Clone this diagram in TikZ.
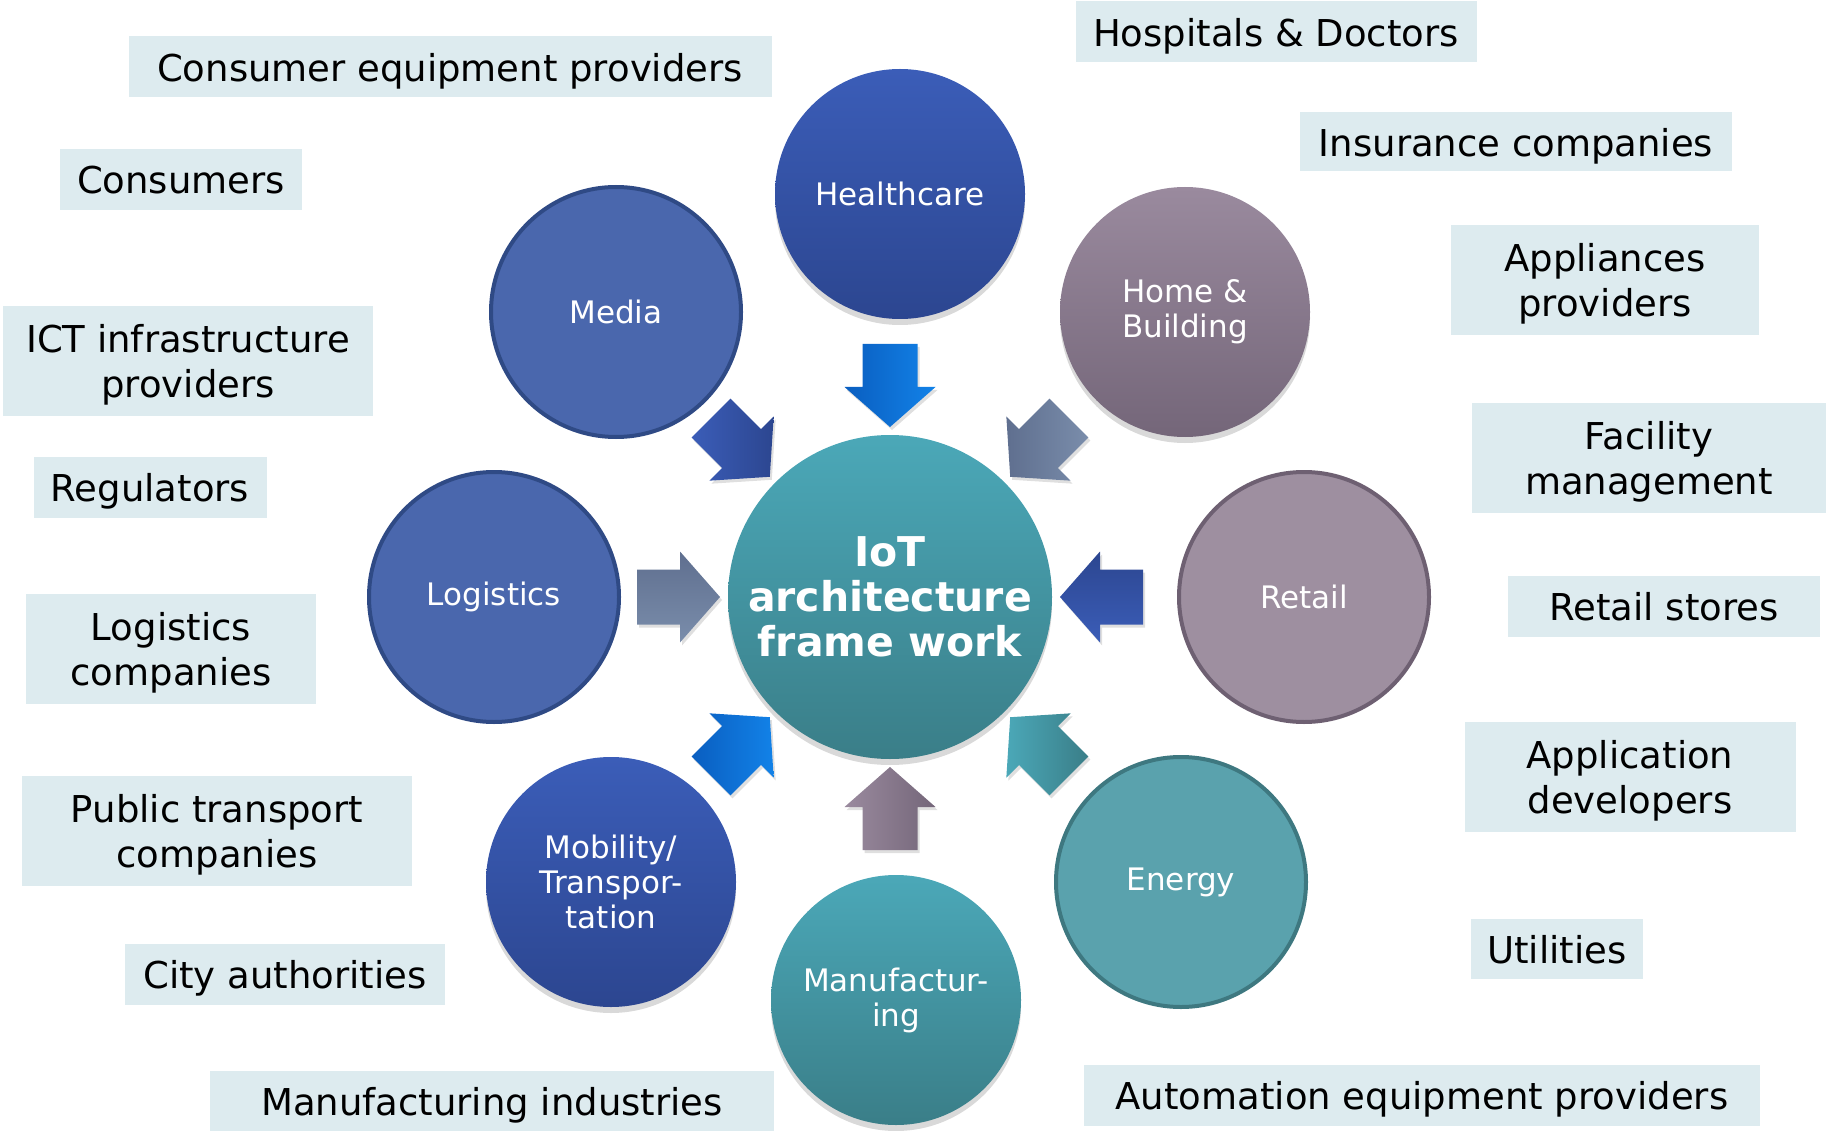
\documentclass[tikz,border=0pt]{standalone}
\usepackage{fontspec}
\setmainfont{DejaVu Sans}
\usepackage{xcolor}
\usetikzlibrary{shadows}

\definecolor{boxfill}{HTML}{DDEBEF}
\definecolor{bluetop}{HTML}{3B5DB8}
\definecolor{bluebot}{HTML}{2C4690}
\definecolor{blueflat}{HTML}{4A67AD}
\definecolor{blueedge}{HTML}{2F4A85}
\definecolor{mauvetop}{HTML}{9A8A9E}
\definecolor{mauvebot}{HTML}{746679}
\definecolor{mauveflat}{HTML}{9E8FA0}
\definecolor{mauveedge}{HTML}{6E6072}
\definecolor{tealtop}{HTML}{4BA8B8}
\definecolor{tealbot}{HTML}{3A7E88}
\definecolor{tealflat}{HTML}{5AA2AD}
\definecolor{tealedge}{HTML}{3E7880}
\definecolor{skydark}{HTML}{0A5EC0}
\definecolor{skylight}{HTML}{1282E8}
\definecolor{slatedark}{HTML}{5F6F8F}
\definecolor{slatelight}{HTML}{7A8DAB}

% block arrow pointing at the hub: angle, shading
\newcommand{\feedarrow}[2]{%
  \path[arrowbody,#2,shift={(hub.center)},rotate=#1]
    (253,27.5) -- (210,27.5) -- (210,45.5) -- (170,0) -- (210,-45.5)
    -- (210,-27.5) -- (253,-27.5) -- cycle;
}

\begin{document}
\begin{tikzpicture}[x=1pt,y=-1pt,
  lbl/.style={fill=boxfill,align=center,inner sep=0pt,text depth=0pt,
    font=\fontsize{37}{45}\selectfont},
  disc/.style={circle,minimum size=250,inner sep=0pt,text=white,align=center,
    font=\fontsize{31}{35}\selectfont},
  flatdisc/.style={disc,line width=4pt},
  gradisc/.style={disc,drop shadow={shadow xshift=0pt,shadow yshift=-6pt,opacity=0.3}},
  arrowbody/.style={drop shadow={shadow xshift=2pt,shadow yshift=-3pt,opacity=0.25}}]
\useasboundingbox (0,0) rectangle (1826,1131);

% Hub
\node[gradisc,minimum size=324,top color=tealtop,bottom color=tealbot,
  font=\bfseries\fontsize{41}{45}\selectfont] (hub) at (890,597)
  {IoT\\architecture\\frame work};

% Sectors
\node[gradisc,top color=bluetop,bottom color=bluebot] (health) at (900,194) {Healthcare};
\node[flatdisc,fill=blueflat,draw=blueedge] (media) at (616,312) {Media};
\node[gradisc,top color=mauvetop,bottom color=mauvebot] (home) at (1185,312) {Home \&\\Building};
\node[flatdisc,fill=blueflat,draw=blueedge] (logist) at (494,597) {Logistics};
\node[flatdisc,fill=mauveflat,draw=mauveedge] (retail) at (1304,597) {Retail};
\node[gradisc,top color=bluetop,bottom color=bluebot] (mobil) at (611,882) {Mobility/\\Transpor-\\tation};
\node[flatdisc,fill=tealflat,draw=tealedge] (energy) at (1181,882) {Energy};
\node[gradisc,top color=tealtop,bottom color=tealbot] (manuf) at (896,1000) {Manufactur-\\ing};

% Arrows into the hub
\feedarrow{90}{left color=skydark,right color=skylight}
\feedarrow{135}{left color=bluetop,right color=bluebot}
\feedarrow{45}{left color=slatedark,right color=slatelight}
\feedarrow{180}{top color=slatedark,bottom color=slatelight}
\feedarrow{0}{top color=bluebot,bottom color=bluetop}
\feedarrow{225}{left color=skydark,right color=skylight}
\feedarrow{270}{left color=mauvetop,right color=mauvebot}
\feedarrow{315}{left color=tealtop,right color=tealbot}

% Stakeholders, left
\node[lbl,minimum width=643,minimum height=61] (cequip) at (450,67) {Consumer equipment providers};
\node[lbl,minimum width=242,minimum height=61] (consum) at (181,180) {Consumers};
\node[lbl,minimum width=370,minimum height=110] (ict) at (188,361) {ICT infrastructure\\providers};
\node[lbl,minimum width=233,minimum height=61] (regul) at (150,487) {Regulators};
\node[lbl,minimum width=290,minimum height=110] (logco) at (171,649) {Logistics\\companies};
\node[lbl,minimum width=390,minimum height=110] (pubtr) at (217,831) {Public transport\\companies};
\node[lbl,minimum width=320,minimum height=61] (city) at (285,974) {City authorities};
\node[lbl,minimum width=564,minimum height=61] (manind) at (492,1101) {Manufacturing industries};

% Stakeholders, right
\node[lbl,minimum width=401,minimum height=61] (hosp) at (1276,32) {Hospitals \& Doctors};
\node[lbl,minimum width=432,minimum height=59] (insur) at (1516,142) {Insurance companies};
\node[lbl,minimum width=308,minimum height=110] (appl) at (1605,280) {Appliances\\providers};
\node[lbl,minimum width=354,minimum height=110] (facil) at (1649,458) {Facility\\management};
\node[lbl,minimum width=312,minimum height=61] (rstore) at (1664,606) {Retail stores};
\node[lbl,minimum width=331,minimum height=110] (appdev) at (1630,777) {Application\\developers};
\node[lbl,minimum width=172,minimum height=60] (util) at (1557,949) {Utilities};
\node[lbl,minimum width=676,minimum height=61] (autom) at (1422,1095) {Automation equipment providers};
\end{tikzpicture}
\end{document}
